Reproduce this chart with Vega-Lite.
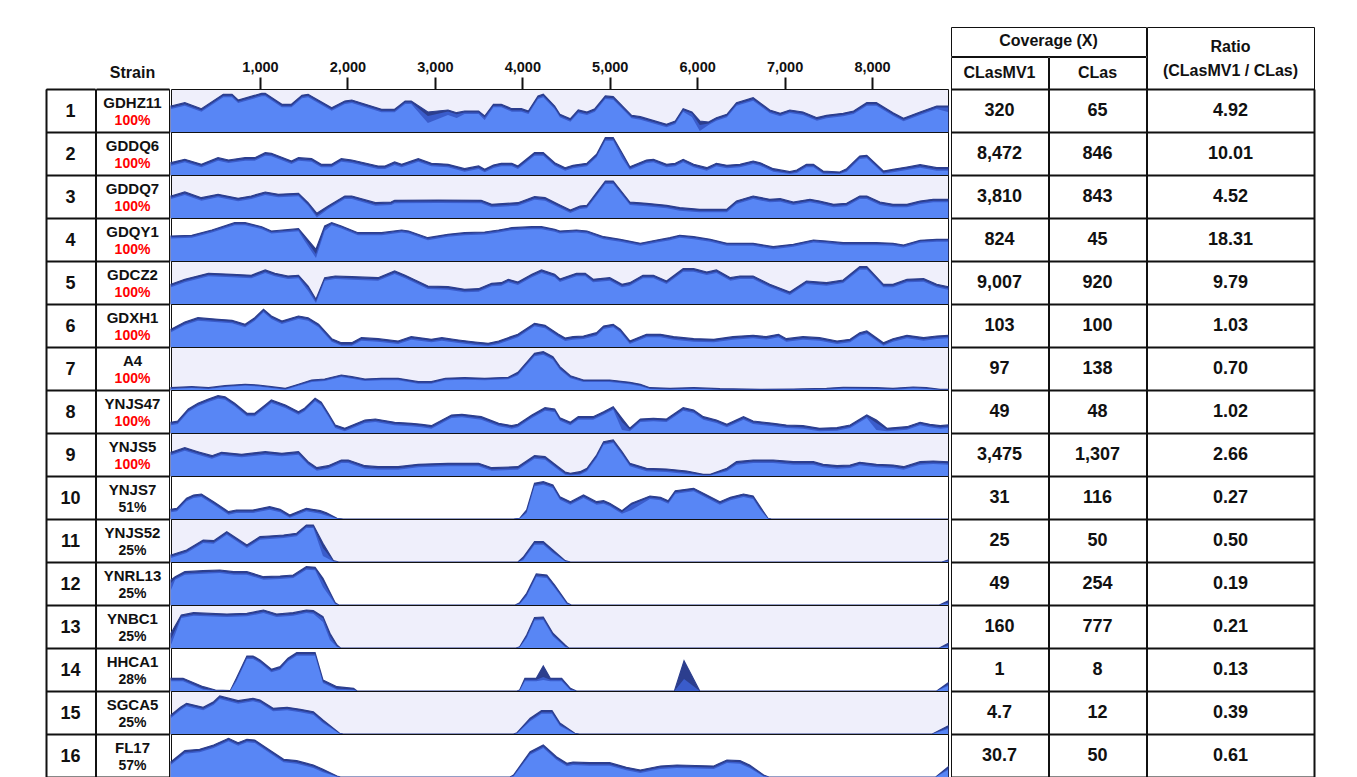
{
"$schema": "https://vega.github.io/schema/vega-lite/v6.json",
"padding": {"left": 45, "top": 26, "right": 5, "bottom": 0},
"background": "#ffffff",
"config": {"view": {"stroke": null}, "axis": {"minExtent": 0}, "text": {"font": "Liberation Sans", "fill": "#111111", "fontWeight": "bold"}},
"datasets": {
"tab": [
{"row":1,"name":"GDHZ11","pct":"100%","mv1":"320","clas":"65","ratio":"4.92"},
{"row":2,"name":"GDDQ6","pct":"100%","mv1":"8,472","clas":"846","ratio":"10.01"},
{"row":3,"name":"GDDQ7","pct":"100%","mv1":"3,810","clas":"843","ratio":"4.52"},
{"row":4,"name":"GDQY1","pct":"100%","mv1":"824","clas":"45","ratio":"18.31"},
{"row":5,"name":"GDCZ2","pct":"100%","mv1":"9,007","clas":"920","ratio":"9.79"},
{"row":6,"name":"GDXH1","pct":"100%","mv1":"103","clas":"100","ratio":"1.03"},
{"row":7,"name":"A4","pct":"100%","mv1":"97","clas":"138","ratio":"0.70"},
{"row":8,"name":"YNJS47","pct":"100%","mv1":"49","clas":"48","ratio":"1.02"},
{"row":9,"name":"YNJS5","pct":"100%","mv1":"3,475","clas":"1,307","ratio":"2.66"},
{"row":10,"name":"YNJS7","pct":"51%","mv1":"31","clas":"116","ratio":"0.27"},
{"row":11,"name":"YNJS52","pct":"25%","mv1":"25","clas":"50","ratio":"0.50"},
{"row":12,"name":"YNRL13","pct":"25%","mv1":"49","clas":"254","ratio":"0.19"},
{"row":13,"name":"YNBC1","pct":"25%","mv1":"160","clas":"777","ratio":"0.21"},
{"row":14,"name":"HHCA1","pct":"28%","mv1":"1","clas":"8","ratio":"0.13"},
{"row":15,"name":"SGCA5","pct":"25%","mv1":"4.7","clas":"12","ratio":"0.39"},
{"row":16,"name":"FL17","pct":"57%","mv1":"30.7","clas":"50","ratio":"0.61"}
],
"cov": [
{"s":1,"p":-18,"a":26,"b":24.5,"c":23},{"s":1,"p":140,"a":29.3,"b":27.8,"c":26.3},{"s":1,"p":330,"a":23.3,"b":21.8,"c":20.3},{"s":1,"p":580,"a":37.7,"b":36.2,"c":34.7},{"s":1,"p":680,"a":37.7,"b":36.2,"c":34.7},{"s":1,"p":750,"a":32,"b":30.5,"c":29},{"s":1,"p":1020,"a":38.7,"b":37.2,"c":35.7},{"s":1,"p":1060,"a":38.7,"b":37.2,"c":35.7},{"s":1,"p":1250,"a":27.7,"b":26.2,"c":24.7},{"s":1,"p":1360,"a":27.7,"b":26.2,"c":24.7},{"s":1,"p":1480,"a":36.7,"b":35.2,"c":33.7},{"s":1,"p":1550,"a":37.7,"b":36.2,"c":34.7},{"s":1,"p":1820,"a":24.3,"b":22.8,"c":21.3},{"s":1,"p":1970,"a":31,"b":29.5,"c":28},{"s":1,"p":2050,"a":32,"b":30.5,"c":29},{"s":1,"p":2390,"a":22.7,"b":21.2,"c":19.7},{"s":1,"p":2540,"a":22.7,"b":21.2,"c":19.7},{"s":1,"p":2660,"a":31,"b":29.5,"c":28},{"s":1,"p":2730,"a":31,"b":29.5,"c":28},{"s":1,"p":2920,"a":20,"b":16,"c":9},{"s":1,"p":3150,"a":22,"b":20.5,"c":17},{"s":1,"p":3250,"a":19.3,"b":17.8,"c":14},{"s":1,"p":3340,"a":21,"b":19.5,"c":18},{"s":1,"p":3500,"a":21,"b":19.5,"c":18},{"s":1,"p":3570,"a":16,"b":14.5,"c":12},{"s":1,"p":3670,"a":27.7,"b":26.2,"c":24.7},{"s":1,"p":3760,"a":27.7,"b":26.2,"c":24.7},{"s":1,"p":3880,"a":23.3,"b":21.8,"c":20.3},{"s":1,"p":3990,"a":23.3,"b":21.8,"c":20.3},{"s":1,"p":4070,"a":21,"b":19.5,"c":18},{"s":1,"p":4180,"a":36,"b":34.5,"c":33},{"s":1,"p":4240,"a":37.7,"b":36.2,"c":34.7},{"s":1,"p":4370,"a":26,"b":24.5,"c":23},{"s":1,"p":4430,"a":17.7,"b":16.2,"c":14.7},{"s":1,"p":4550,"a":13.3,"b":11.8,"c":10.3},{"s":1,"p":4640,"a":22,"b":20.5,"c":19},{"s":1,"p":4740,"a":20,"b":18.5,"c":17},{"s":1,"p":4830,"a":23.3,"b":21.8,"c":20.3},{"s":1,"p":4950,"a":36,"b":34.5,"c":33},{"s":1,"p":5040,"a":35.3,"b":33.8,"c":32.3},{"s":1,"p":5250,"a":16.7,"b":15.2,"c":13.7},{"s":1,"p":5350,"a":15.3,"b":13.8,"c":12.3},{"s":1,"p":5650,"a":7.7,"b":6.2,"c":4.7},{"s":1,"p":5750,"a":11,"b":9.5,"c":8},{"s":1,"p":5840,"a":23.3,"b":21.8,"c":20.3},{"s":1,"p":5940,"a":20,"b":18.5,"c":15},{"s":1,"p":6030,"a":11,"b":7,"c":1},{"s":1,"p":6130,"a":10,"b":8.5,"c":7},{"s":1,"p":6220,"a":14.3,"b":12.8,"c":11.3},{"s":1,"p":6340,"a":17.7,"b":16.2,"c":14.7},{"s":1,"p":6450,"a":29.3,"b":27.8,"c":26.3},{"s":1,"p":6640,"a":34.3,"b":32.8,"c":31.3},{"s":1,"p":6830,"a":22,"b":20.5,"c":19},{"s":1,"p":6950,"a":18.7,"b":17.2,"c":15.7},{"s":1,"p":7060,"a":22,"b":20.5,"c":19},{"s":1,"p":7210,"a":20,"b":18.5,"c":17},{"s":1,"p":7370,"a":14.3,"b":12.8,"c":11.3},{"s":1,"p":7480,"a":16.7,"b":15.2,"c":13.7},{"s":1,"p":7670,"a":18.7,"b":17.2,"c":15.7},{"s":1,"p":7790,"a":21,"b":19.5,"c":18},{"s":1,"p":7940,"a":29.3,"b":27.8,"c":26.3},{"s":1,"p":8050,"a":29.3,"b":27.8,"c":26.3},{"s":1,"p":8240,"a":19.3,"b":17.8,"c":16.3},{"s":1,"p":8360,"a":13.7,"b":12.2,"c":10.7},{"s":1,"p":8550,"a":20,"b":18.5,"c":17},{"s":1,"p":8740,"a":26,"b":24.5,"c":23},{"s":1,"p":8869,"a":26,"b":24.5,"c":20},
{"s":2,"p":-18,"a":12.3,"b":10.8,"c":9.3},{"s":2,"p":140,"a":15.7,"b":14.2,"c":12.7},{"s":2,"p":330,"a":10.7,"b":9.2,"c":7.7},{"s":2,"p":520,"a":17.3,"b":15.8,"c":14.3},{"s":2,"p":640,"a":15,"b":13.5,"c":12},{"s":2,"p":830,"a":17.3,"b":15.8,"c":14.3},{"s":2,"p":940,"a":17.3,"b":15.8,"c":14.3},{"s":2,"p":1060,"a":22.3,"b":20.8,"c":19.3},{"s":2,"p":1130,"a":21.7,"b":20.2,"c":18.7},{"s":2,"p":1360,"a":14,"b":12.5,"c":11},{"s":2,"p":1440,"a":17.3,"b":15.8,"c":14.3},{"s":2,"p":1590,"a":16.3,"b":14.8,"c":13.3},{"s":2,"p":1700,"a":10.7,"b":9.2,"c":7.7},{"s":2,"p":1820,"a":10.7,"b":9.2,"c":7.7},{"s":2,"p":1930,"a":16.3,"b":14.8,"c":13.3},{"s":2,"p":2050,"a":15,"b":13.5,"c":12},{"s":2,"p":2350,"a":9,"b":7.5,"c":6},{"s":2,"p":2430,"a":9,"b":7.5,"c":6},{"s":2,"p":2540,"a":13,"b":11.5,"c":10},{"s":2,"p":2620,"a":10.7,"b":9.2,"c":7.7},{"s":2,"p":2810,"a":16.3,"b":14.8,"c":13.3},{"s":2,"p":2960,"a":11.7,"b":10.2,"c":8.7},{"s":2,"p":3150,"a":10.7,"b":9.2,"c":7.7},{"s":2,"p":3340,"a":6.3,"b":4.8,"c":3.3},{"s":2,"p":3500,"a":9,"b":7.5,"c":6},{"s":2,"p":3570,"a":5.7,"b":4.2,"c":2.7},{"s":2,"p":3670,"a":10,"b":8.5,"c":7},{"s":2,"p":3760,"a":11.7,"b":10.2,"c":8.7},{"s":2,"p":3880,"a":11.7,"b":10.2,"c":8.7},{"s":2,"p":3950,"a":9,"b":7.5,"c":6},{"s":2,"p":4140,"a":22.3,"b":20.8,"c":19.3},{"s":2,"p":4240,"a":22.3,"b":20.8,"c":19.3},{"s":2,"p":4370,"a":12.3,"b":10.8,"c":9.3},{"s":2,"p":4490,"a":7.3,"b":5.8,"c":4.3},{"s":2,"p":4580,"a":9.7,"b":8.2,"c":6.7},{"s":2,"p":4740,"a":11.7,"b":10.2,"c":8.7},{"s":2,"p":4850,"a":20.7,"b":19.2,"c":17.7},{"s":2,"p":4950,"a":37.3,"b":35.8,"c":34.3},{"s":2,"p":5040,"a":37.3,"b":35.8,"c":34.3},{"s":2,"p":5140,"a":22.3,"b":20.8,"c":17},{"s":2,"p":5230,"a":8.3,"b":6.8,"c":5.3},{"s":2,"p":5420,"a":15,"b":13.5,"c":12},{"s":2,"p":5500,"a":15.7,"b":14.2,"c":12.7},{"s":2,"p":5650,"a":10.7,"b":9.2,"c":7.7},{"s":2,"p":5750,"a":11.7,"b":10.2,"c":8.7},{"s":2,"p":5840,"a":15.7,"b":14.2,"c":12.7},{"s":2,"p":5960,"a":10.7,"b":9.2,"c":7.7},{"s":2,"p":6110,"a":7.3,"b":5.8,"c":4.3},{"s":2,"p":6220,"a":11.7,"b":10.2,"c":8.7},{"s":2,"p":6340,"a":9.7,"b":8.2,"c":6.7},{"s":2,"p":6490,"a":10.7,"b":9.2,"c":7.7},{"s":2,"p":6640,"a":14,"b":12.5,"c":11},{"s":2,"p":6720,"a":12.3,"b":10.8,"c":9.3},{"s":2,"p":6870,"a":6.3,"b":4.8,"c":3.3},{"s":2,"p":7060,"a":3.3,"b":2,"c":1},{"s":2,"p":7140,"a":5,"b":3.5,"c":2},{"s":2,"p":7250,"a":10.7,"b":9.2,"c":7.7},{"s":2,"p":7330,"a":10.7,"b":9.2,"c":7.7},{"s":2,"p":7440,"a":4,"b":2.4,"c":1.2},{"s":2,"p":7630,"a":3,"b":1.8,"c":0.9},{"s":2,"p":7710,"a":6.3,"b":4.8,"c":3.3},{"s":2,"p":7860,"a":19,"b":17.5,"c":16},{"s":2,"p":7940,"a":19.7,"b":18.2,"c":16.7},{"s":2,"p":8130,"a":4,"b":2.4,"c":1.2},{"s":2,"p":8240,"a":5.7,"b":4.2,"c":2.7},{"s":2,"p":8400,"a":8,"b":6.5,"c":5},{"s":2,"p":8550,"a":10.3,"b":8.8,"c":7.3},{"s":2,"p":8740,"a":7.3,"b":5.8,"c":4.3},{"s":2,"p":8869,"a":7.3,"b":5.8,"c":4.3},
{"s":3,"p":-18,"a":22,"b":20.5,"c":19},{"s":3,"p":140,"a":26,"b":24.5,"c":23},{"s":3,"p":330,"a":20.3,"b":18.8,"c":17.3},{"s":3,"p":520,"a":23.7,"b":22.2,"c":20.7},{"s":3,"p":750,"a":19.7,"b":18.2,"c":16.7},{"s":3,"p":900,"a":22,"b":20.5,"c":19},{"s":3,"p":1060,"a":26,"b":24.5,"c":23},{"s":3,"p":1210,"a":23.7,"b":22.2,"c":20.7},{"s":3,"p":1440,"a":24.7,"b":23.2,"c":21.7},{"s":3,"p":1550,"a":15.3,"b":13.8,"c":12.3},{"s":3,"p":1650,"a":4.7,"b":2.5,"c":0.5},{"s":3,"p":1780,"a":12,"b":10.5,"c":9},{"s":3,"p":1970,"a":22,"b":20.5,"c":19},{"s":3,"p":2050,"a":22,"b":20.5,"c":19},{"s":3,"p":2320,"a":15.3,"b":13.8,"c":12.3},{"s":3,"p":2500,"a":16,"b":14.5,"c":13},{"s":3,"p":2540,"a":17.7,"b":16.2,"c":14.7},{"s":3,"p":3040,"a":18,"b":16.5,"c":15},{"s":3,"p":3530,"a":17.7,"b":16.2,"c":14.7},{"s":3,"p":3650,"a":13.7,"b":12.2,"c":10.7},{"s":3,"p":3950,"a":15.3,"b":13.8,"c":12.3},{"s":3,"p":4140,"a":21.3,"b":19.8,"c":18.3},{"s":3,"p":4260,"a":20.3,"b":18.8,"c":17.3},{"s":3,"p":4430,"a":13,"b":11.5,"c":10},{"s":3,"p":4550,"a":8,"b":6.5,"c":5},{"s":3,"p":4660,"a":12,"b":10.5,"c":9},{"s":3,"p":4740,"a":12.7,"b":11.2,"c":9.7},{"s":3,"p":4850,"a":25.3,"b":23.8,"c":22.3},{"s":3,"p":4950,"a":37,"b":35.5,"c":34},{"s":3,"p":5040,"a":37,"b":35.5,"c":34},{"s":3,"p":5230,"a":16,"b":14.5,"c":13},{"s":3,"p":5420,"a":14.7,"b":13.2,"c":11.7},{"s":3,"p":5650,"a":12.7,"b":11.2,"c":9.7},{"s":3,"p":5800,"a":10.3,"b":8.8,"c":7.3},{"s":3,"p":6030,"a":8.7,"b":7.2,"c":5.7},{"s":3,"p":6340,"a":8.7,"b":7.2,"c":5.7},{"s":3,"p":6450,"a":17,"b":15.5,"c":14},{"s":3,"p":6640,"a":22,"b":20.5,"c":19},{"s":3,"p":6830,"a":18.7,"b":17.2,"c":15.7},{"s":3,"p":6950,"a":19.3,"b":17.8,"c":16.3},{"s":3,"p":7100,"a":16,"b":14.5,"c":13},{"s":3,"p":7290,"a":18.7,"b":17.2,"c":15.7},{"s":3,"p":7400,"a":17,"b":15.5,"c":14},{"s":3,"p":7560,"a":13.7,"b":12.2,"c":10.7},{"s":3,"p":7710,"a":14.7,"b":13.2,"c":11.7},{"s":3,"p":7860,"a":22,"b":20.5,"c":19},{"s":3,"p":7940,"a":22,"b":20.5,"c":19},{"s":3,"p":8090,"a":16,"b":14.5,"c":13},{"s":3,"p":8240,"a":13.7,"b":12.2,"c":10.7},{"s":3,"p":8400,"a":13.7,"b":12.2,"c":10.7},{"s":3,"p":8550,"a":17,"b":15.5,"c":14},{"s":3,"p":8700,"a":18.7,"b":17.2,"c":15.7},{"s":3,"p":8869,"a":18.7,"b":17.2,"c":15.7},
{"s":4,"p":-18,"a":25,"b":24,"c":22.5},{"s":4,"p":220,"a":25.7,"b":24.7,"c":23.2},{"s":4,"p":450,"a":31,"b":30,"c":28.5},{"s":4,"p":710,"a":38.3,"b":37.3,"c":35.8},{"s":4,"p":830,"a":38.3,"b":37.3,"c":35.8},{"s":4,"p":1020,"a":34.3,"b":33.3,"c":31.8},{"s":4,"p":1130,"a":30,"b":29,"c":27.5},{"s":4,"p":1440,"a":32.3,"b":31.3,"c":29.8},{"s":4,"p":1510,"a":25,"b":23,"c":20},{"s":4,"p":1640,"a":11.7,"b":7,"c":3},{"s":4,"p":1740,"a":35,"b":33,"c":30},{"s":4,"p":1820,"a":38.3,"b":37.3,"c":35.8},{"s":4,"p":1930,"a":35,"b":34,"c":32.5},{"s":4,"p":2120,"a":28.3,"b":27.3,"c":25.8},{"s":4,"p":2390,"a":28.3,"b":27.3,"c":25.8},{"s":4,"p":2620,"a":31,"b":30,"c":28.5},{"s":4,"p":2700,"a":30,"b":29,"c":27.5},{"s":4,"p":2920,"a":23.3,"b":22.3,"c":20.8},{"s":4,"p":3150,"a":26.7,"b":25.7,"c":24.2},{"s":4,"p":3340,"a":28.3,"b":27.3,"c":25.8},{"s":4,"p":3570,"a":29,"b":28,"c":26.5},{"s":4,"p":3730,"a":31,"b":30,"c":28.5},{"s":4,"p":3880,"a":33.3,"b":32.3,"c":30.8},{"s":4,"p":4110,"a":34.3,"b":33.3,"c":31.8},{"s":4,"p":4220,"a":34.3,"b":33.3,"c":31.8},{"s":4,"p":4370,"a":31.7,"b":30.7,"c":29.2},{"s":4,"p":4430,"a":30,"b":29,"c":27.5},{"s":4,"p":4620,"a":31,"b":30,"c":28.5},{"s":4,"p":4740,"a":30,"b":29,"c":27.5},{"s":4,"p":4930,"a":24.3,"b":23.3,"c":21.8},{"s":4,"p":5120,"a":21.7,"b":20.7,"c":19.2},{"s":4,"p":5350,"a":17.7,"b":16.7,"c":15.2},{"s":4,"p":5540,"a":21,"b":20,"c":18.5},{"s":4,"p":5690,"a":23.3,"b":22.3,"c":20.8},{"s":4,"p":5800,"a":25.7,"b":24.7,"c":23.2},{"s":4,"p":5960,"a":24.3,"b":23.3,"c":21.8},{"s":4,"p":6150,"a":21.7,"b":20.7,"c":19.2},{"s":4,"p":6340,"a":17.7,"b":16.7,"c":15.2},{"s":4,"p":6640,"a":17.7,"b":16.7,"c":15.2},{"s":4,"p":6870,"a":14.3,"b":13.3,"c":11.8},{"s":4,"p":7100,"a":16.7,"b":15.7,"c":14.2},{"s":4,"p":7330,"a":21,"b":20,"c":18.5},{"s":4,"p":7480,"a":20,"b":19,"c":17.5},{"s":4,"p":7670,"a":18.3,"b":17.3,"c":15.8},{"s":4,"p":7860,"a":18.3,"b":17.3,"c":15.8},{"s":4,"p":8050,"a":18.3,"b":17.3,"c":15.8},{"s":4,"p":8240,"a":17.7,"b":16.7,"c":15.2},{"s":4,"p":8360,"a":16,"b":15,"c":13.5},{"s":4,"p":8550,"a":20.7,"b":19.7,"c":18.2},{"s":4,"p":8740,"a":21.7,"b":20.7,"c":19.2},{"s":4,"p":8869,"a":21.7,"b":20.7,"c":19.2},
{"s":5,"p":-18,"a":19.7,"b":18.2,"c":16.7},{"s":5,"p":140,"a":24.7,"b":23.2,"c":21.7},{"s":5,"p":410,"a":30.7,"b":29.2,"c":27.7},{"s":5,"p":680,"a":29.7,"b":28.2,"c":26.7},{"s":5,"p":900,"a":28.7,"b":27.2,"c":25.7},{"s":5,"p":1060,"a":34,"b":32.5,"c":31},{"s":5,"p":1170,"a":30.7,"b":29.2,"c":27.7},{"s":5,"p":1320,"a":28,"b":26.5,"c":25},{"s":5,"p":1440,"a":28.7,"b":27.2,"c":25.7},{"s":5,"p":1550,"a":18,"b":16,"c":13},{"s":5,"p":1640,"a":4.7,"b":3,"c":1},{"s":5,"p":1740,"a":26.3,"b":24.8,"c":23.3},{"s":5,"p":1860,"a":28,"b":26.5,"c":25},{"s":5,"p":2050,"a":27.3,"b":25.8,"c":24.3},{"s":5,"p":2350,"a":26.3,"b":24.8,"c":23.3},{"s":5,"p":2540,"a":33,"b":31.5,"c":30},{"s":5,"p":2660,"a":28.7,"b":27.2,"c":25.7},{"s":5,"p":2920,"a":18,"b":16.5,"c":15},{"s":5,"p":3150,"a":17.3,"b":15.8,"c":14.3},{"s":5,"p":3340,"a":14.7,"b":13.2,"c":11.7},{"s":5,"p":3500,"a":15.3,"b":13.8,"c":12.3},{"s":5,"p":3650,"a":20.7,"b":19.2,"c":17.7},{"s":5,"p":3760,"a":21.3,"b":19.8,"c":18.3},{"s":5,"p":3840,"a":24.7,"b":23.2,"c":21.7},{"s":5,"p":3950,"a":22,"b":20.5,"c":19},{"s":5,"p":4110,"a":29.7,"b":28.2,"c":26.7},{"s":5,"p":4220,"a":34,"b":32.5,"c":31},{"s":5,"p":4370,"a":29.7,"b":28.2,"c":26.7},{"s":5,"p":4430,"a":25,"b":23.5,"c":22},{"s":5,"p":4620,"a":30.7,"b":29.2,"c":27.7},{"s":5,"p":4720,"a":30.7,"b":29.2,"c":27.7},{"s":5,"p":4810,"a":24.7,"b":23.2,"c":21.7},{"s":5,"p":5000,"a":26.3,"b":24.8,"c":23.3},{"s":5,"p":5140,"a":19.7,"b":18.2,"c":16.7},{"s":5,"p":5230,"a":21.3,"b":19.8,"c":18.3},{"s":5,"p":5380,"a":28.7,"b":27.2,"c":25.7},{"s":5,"p":5500,"a":28.7,"b":27.2,"c":25.7},{"s":5,"p":5650,"a":23,"b":21.5,"c":20},{"s":5,"p":5840,"a":35.3,"b":33.8,"c":32.3},{"s":5,"p":5960,"a":35.3,"b":33.8,"c":32.3},{"s":5,"p":6110,"a":32,"b":30.5,"c":29},{"s":5,"p":6220,"a":34,"b":32.5,"c":31},{"s":5,"p":6380,"a":26.3,"b":24.8,"c":23.3},{"s":5,"p":6490,"a":28,"b":26.5,"c":25},{"s":5,"p":6640,"a":28,"b":26.5,"c":25},{"s":5,"p":6830,"a":19.7,"b":18.2,"c":16.7},{"s":5,"p":7060,"a":12,"b":10.5,"c":9},{"s":5,"p":7250,"a":23,"b":21.5,"c":20},{"s":5,"p":7480,"a":21.3,"b":19.8,"c":18.3},{"s":5,"p":7670,"a":24,"b":22.5,"c":21},{"s":5,"p":7860,"a":37.3,"b":35.8,"c":34.3},{"s":5,"p":7940,"a":37.3,"b":35.8,"c":34.3},{"s":5,"p":8130,"a":19.7,"b":18.2,"c":16.7},{"s":5,"p":8240,"a":19.7,"b":18.2,"c":16.7},{"s":5,"p":8400,"a":24.7,"b":23.2,"c":21.7},{"s":5,"p":8590,"a":25.3,"b":23.8,"c":22.3},{"s":5,"p":8740,"a":19.7,"b":18.2,"c":16.7},{"s":5,"p":8869,"a":17.3,"b":15.8,"c":14.3},
{"s":6,"p":-18,"a":17.7,"b":16.2,"c":14.7},{"s":6,"p":140,"a":25,"b":23.5,"c":22},{"s":6,"p":290,"a":29.3,"b":27.8,"c":26.3},{"s":6,"p":520,"a":27.7,"b":26.2,"c":24.7},{"s":6,"p":680,"a":26.7,"b":25.2,"c":23.7},{"s":6,"p":830,"a":22.7,"b":21.2,"c":19.7},{"s":6,"p":940,"a":29.3,"b":27.8,"c":26.3},{"s":6,"p":1040,"a":37.7,"b":36.2,"c":34.7},{"s":6,"p":1130,"a":31,"b":29.5,"c":28},{"s":6,"p":1250,"a":26,"b":24.5,"c":23},{"s":6,"p":1440,"a":31,"b":29.5,"c":28},{"s":6,"p":1550,"a":29.3,"b":27.8,"c":26.3},{"s":6,"p":1670,"a":22.7,"b":21.2,"c":19.7},{"s":6,"p":1820,"a":8.3,"b":6.8,"c":5.3},{"s":6,"p":1930,"a":4.3,"b":2.6,"c":1.3},{"s":6,"p":2050,"a":4.3,"b":2.6,"c":1.3},{"s":6,"p":2160,"a":9.3,"b":7.8,"c":6.3},{"s":6,"p":2350,"a":8.3,"b":6.8,"c":5.3},{"s":6,"p":2580,"a":6,"b":4.5,"c":3},{"s":6,"p":2730,"a":10.3,"b":8.8,"c":7.3},{"s":6,"p":2960,"a":7.7,"b":6.2,"c":4.7},{"s":6,"p":3080,"a":9.3,"b":7.8,"c":6.3},{"s":6,"p":3270,"a":7,"b":5.5,"c":4},{"s":6,"p":3460,"a":5,"b":3.5,"c":2},{"s":6,"p":3610,"a":3.7,"b":2.2,"c":1.1},{"s":6,"p":3730,"a":6,"b":4.5,"c":3},{"s":6,"p":3950,"a":12.7,"b":11.2,"c":9.7},{"s":6,"p":4140,"a":23.7,"b":22.2,"c":20.7},{"s":6,"p":4260,"a":21.7,"b":20.2,"c":18.7},{"s":6,"p":4410,"a":13,"b":11.5,"c":10},{"s":6,"p":4490,"a":9,"b":7.5,"c":6},{"s":6,"p":4580,"a":10.3,"b":8.8,"c":7.3},{"s":6,"p":4700,"a":11,"b":9.5,"c":8},{"s":6,"p":4850,"a":14.3,"b":12.8,"c":11.3},{"s":6,"p":4930,"a":21,"b":19.5,"c":18},{"s":6,"p":5040,"a":22.7,"b":21.2,"c":19.7},{"s":6,"p":5120,"a":17.7,"b":16.2,"c":14.7},{"s":6,"p":5230,"a":6,"b":4.5,"c":3},{"s":6,"p":5420,"a":12.7,"b":11.2,"c":9.7},{"s":6,"p":5580,"a":12.7,"b":11.2,"c":9.7},{"s":6,"p":5730,"a":10.3,"b":8.8,"c":7.3},{"s":6,"p":5960,"a":8.3,"b":6.8,"c":5.3},{"s":6,"p":6190,"a":7.7,"b":6.2,"c":4.7},{"s":6,"p":6410,"a":10.3,"b":8.8,"c":7.3},{"s":6,"p":6640,"a":11.7,"b":10.2,"c":8.7},{"s":6,"p":6790,"a":10.3,"b":8.8,"c":7.3},{"s":6,"p":6930,"a":12.7,"b":11.2,"c":9.7},{"s":6,"p":7020,"a":8.3,"b":6.8,"c":5.3},{"s":6,"p":7210,"a":10.3,"b":8.8,"c":7.3},{"s":6,"p":7400,"a":9.3,"b":7.8,"c":6.3},{"s":6,"p":7600,"a":6,"b":4.5,"c":3},{"s":6,"p":7750,"a":7.7,"b":6.2,"c":4.7},{"s":6,"p":7860,"a":14.3,"b":12.8,"c":11.3},{"s":6,"p":7940,"a":16,"b":14.5,"c":13},{"s":6,"p":8130,"a":4.3,"b":2.6,"c":1.3},{"s":6,"p":8240,"a":8.3,"b":6.8,"c":5.3},{"s":6,"p":8400,"a":11.7,"b":10.2,"c":8.7},{"s":6,"p":8590,"a":9.3,"b":7.8,"c":6.3},{"s":6,"p":8740,"a":11,"b":9.5,"c":8},{"s":6,"p":8869,"a":11.7,"b":10.2,"c":8.7},
{"s":7,"p":-18,"a":2.3,"b":1.6,"c":0.9},{"s":7,"p":220,"a":3.3,"b":2.6,"c":1.9},{"s":7,"p":410,"a":2.3,"b":1.6,"c":0.9},{"s":7,"p":600,"a":4.3,"b":3.6,"c":2.9},{"s":7,"p":830,"a":5.7,"b":5,"c":4.3},{"s":7,"p":980,"a":5,"b":4.3,"c":3.6},{"s":7,"p":1130,"a":3.3,"b":2.6,"c":1.9},{"s":7,"p":1290,"a":1.7,"b":1,"c":0.3},{"s":7,"p":1440,"a":5.7,"b":5,"c":4.3},{"s":7,"p":1590,"a":10,"b":9,"c":8},{"s":7,"p":1740,"a":11,"b":10,"c":9},{"s":7,"p":1930,"a":15,"b":14,"c":13},{"s":7,"p":2050,"a":13.3,"b":12.3,"c":11.3},{"s":7,"p":2200,"a":11,"b":10,"c":9},{"s":7,"p":2390,"a":11.7,"b":10.7,"c":9.7},{"s":7,"p":2580,"a":11.7,"b":10.7,"c":9.7},{"s":7,"p":2810,"a":8.3,"b":7.3,"c":6.3},{"s":7,"p":2960,"a":8.3,"b":7.3,"c":6.3},{"s":7,"p":3120,"a":11.7,"b":10.7,"c":9.7},{"s":7,"p":3340,"a":12.3,"b":11.3,"c":10.3},{"s":7,"p":3570,"a":11.7,"b":10.7,"c":9.7},{"s":7,"p":3840,"a":12.7,"b":11.7,"c":10.7},{"s":7,"p":3950,"a":17.7,"b":16.2,"c":14.7},{"s":7,"p":4140,"a":36.7,"b":35.2,"c":33.7},{"s":7,"p":4240,"a":38.3,"b":36.8,"c":35.3},{"s":7,"p":4350,"a":33.3,"b":31.8,"c":30.3},{"s":7,"p":4430,"a":23.3,"b":21.8,"c":20.3},{"s":7,"p":4550,"a":14.3,"b":13,"c":11.8},{"s":7,"p":4700,"a":10,"b":9,"c":8},{"s":7,"p":5000,"a":10,"b":9,"c":8},{"s":7,"p":5230,"a":7.7,"b":6.7,"c":5.7},{"s":7,"p":5350,"a":5.7,"b":4.7,"c":3.7},{"s":7,"p":5460,"a":2.3,"b":1.6,"c":0.9},{"s":7,"p":5690,"a":1.7,"b":1,"c":0.3},{"s":7,"p":5960,"a":2.3,"b":1.6,"c":0.9},{"s":7,"p":6260,"a":1.3,"b":0.6,"c":0},{"s":7,"p":6720,"a":0.7,"b":0.2,"c":0},{"s":7,"p":7100,"a":1,"b":0.4,"c":0},{"s":7,"p":7480,"a":1.7,"b":1,"c":0.3},{"s":7,"p":7670,"a":2.7,"b":2,"c":1.3},{"s":7,"p":8050,"a":2.3,"b":1.6,"c":0.9},{"s":7,"p":8240,"a":1.7,"b":1,"c":0.3},{"s":7,"p":8470,"a":3,"b":2.3,"c":1.6},{"s":7,"p":8620,"a":2.3,"b":1.6,"c":0.9},{"s":7,"p":8780,"a":0.7,"b":0.2,"c":0},{"s":7,"p":8869,"a":0.7,"b":0.2,"c":0},
{"s":8,"p":-18,"a":10.7,"b":9.2,"c":7.7},{"s":8,"p":60,"a":12,"b":10.5,"c":9},{"s":8,"p":180,"a":24,"b":22.5,"c":21},{"s":8,"p":290,"a":29.7,"b":28.2,"c":26.7},{"s":8,"p":410,"a":34,"b":32.5,"c":31},{"s":8,"p":520,"a":37.3,"b":35.8,"c":34.3},{"s":8,"p":600,"a":36.3,"b":34.8,"c":33.3},{"s":8,"p":710,"a":29.7,"b":28.2,"c":26.7},{"s":8,"p":850,"a":19.7,"b":18.2,"c":16.7},{"s":8,"p":940,"a":19.7,"b":18.2,"c":16.7},{"s":8,"p":1060,"a":28,"b":26.5,"c":25},{"s":8,"p":1130,"a":33,"b":31.5,"c":30},{"s":8,"p":1290,"a":28,"b":26.5,"c":25},{"s":8,"p":1440,"a":21.3,"b":19.8,"c":18.3},{"s":8,"p":1510,"a":24.7,"b":23.2,"c":21.7},{"s":8,"p":1630,"a":34.7,"b":33.2,"c":31.7},{"s":8,"p":1700,"a":30.7,"b":29.2,"c":27.7},{"s":8,"p":1780,"a":19.7,"b":18.2,"c":16.7},{"s":8,"p":1860,"a":8,"b":6.5,"c":5},{"s":8,"p":1970,"a":4.7,"b":3.2,"c":1.7},{"s":8,"p":2200,"a":13,"b":11.5,"c":10},{"s":8,"p":2320,"a":14,"b":12.5,"c":11},{"s":8,"p":2540,"a":10.7,"b":9.2,"c":7.7},{"s":8,"p":2730,"a":9.7,"b":8.2,"c":6.7},{"s":8,"p":2850,"a":8.7,"b":7.2,"c":5.7},{"s":8,"p":2960,"a":7.3,"b":5.8,"c":4.3},{"s":8,"p":3190,"a":18,"b":16.5,"c":15},{"s":8,"p":3310,"a":18.7,"b":17.2,"c":15.7},{"s":8,"p":3530,"a":16.3,"b":14.8,"c":13.3},{"s":8,"p":3730,"a":9.7,"b":8.2,"c":6.7},{"s":8,"p":3880,"a":7.3,"b":5.8,"c":4.3},{"s":8,"p":3950,"a":8.7,"b":7.2,"c":5.7},{"s":8,"p":4110,"a":18,"b":16.5,"c":15},{"s":8,"p":4260,"a":25.3,"b":23.8,"c":22.3},{"s":8,"p":4370,"a":24,"b":22.5,"c":21},{"s":8,"p":4430,"a":15.3,"b":13.8,"c":12.3},{"s":8,"p":4550,"a":10.7,"b":9.2,"c":7.7},{"s":8,"p":4640,"a":16.3,"b":14.8,"c":13.3},{"s":8,"p":4810,"a":16.3,"b":14.8,"c":13.3},{"s":8,"p":4930,"a":21.3,"b":19.8,"c":18.3},{"s":8,"p":5040,"a":26.3,"b":24.8,"c":23.3},{"s":8,"p":5140,"a":14.7,"b":11,"c":3},{"s":8,"p":5230,"a":4.7,"b":3.2,"c":1.7},{"s":8,"p":5350,"a":14,"b":12.5,"c":11},{"s":8,"p":5500,"a":14.7,"b":13.2,"c":11.7},{"s":8,"p":5650,"a":14,"b":12.5,"c":11},{"s":8,"p":5840,"a":25.3,"b":23.8,"c":22.3},{"s":8,"p":5960,"a":23,"b":21.5,"c":20},{"s":8,"p":6070,"a":16.3,"b":14.8,"c":13.3},{"s":8,"p":6220,"a":13,"b":11.5,"c":10},{"s":8,"p":6340,"a":8.7,"b":7.2,"c":5.7},{"s":8,"p":6530,"a":16.3,"b":14.8,"c":13.3},{"s":8,"p":6640,"a":12,"b":10.5,"c":9},{"s":8,"p":6870,"a":9.7,"b":8.2,"c":6.7},{"s":8,"p":7020,"a":8,"b":6.5,"c":5},{"s":8,"p":7210,"a":7.3,"b":5.8,"c":4.3},{"s":8,"p":7400,"a":4.7,"b":3.2,"c":1.7},{"s":8,"p":7600,"a":5.3,"b":3.8,"c":2.3},{"s":8,"p":7750,"a":8,"b":6.5,"c":5},{"s":8,"p":7940,"a":18,"b":16.5,"c":15},{"s":8,"p":8050,"a":13,"b":10,"c":3},{"s":8,"p":8170,"a":4.7,"b":3.2,"c":1.7},{"s":8,"p":8400,"a":6.3,"b":4.8,"c":3.3},{"s":8,"p":8550,"a":10.7,"b":9.2,"c":7.7},{"s":8,"p":8660,"a":8.7,"b":7.2,"c":5.7},{"s":8,"p":8780,"a":7.3,"b":5.8,"c":4.3},{"s":8,"p":8869,"a":8,"b":6.5,"c":5},
{"s":9,"p":-18,"a":23.7,"b":22.2,"c":20.7},{"s":9,"p":140,"a":28.3,"b":26.8,"c":25.3},{"s":9,"p":290,"a":24.3,"b":22.8,"c":21.3},{"s":9,"p":450,"a":20.3,"b":18.8,"c":17.3},{"s":9,"p":560,"a":23.7,"b":22.2,"c":20.7},{"s":9,"p":790,"a":21.7,"b":20.2,"c":18.7},{"s":9,"p":1060,"a":24.3,"b":22.8,"c":21.3},{"s":9,"p":1250,"a":22.7,"b":21.2,"c":19.7},{"s":9,"p":1440,"a":24.3,"b":22.8,"c":21.3},{"s":9,"p":1550,"a":14.3,"b":12.8,"c":11.3},{"s":9,"p":1650,"a":8.3,"b":6.8,"c":5.3},{"s":9,"p":1780,"a":10.3,"b":8.8,"c":7.3},{"s":9,"p":1930,"a":16,"b":14.5,"c":13},{"s":9,"p":2010,"a":16,"b":14.5,"c":13},{"s":9,"p":2200,"a":10.3,"b":8.8,"c":7.3},{"s":9,"p":2350,"a":9.3,"b":7.8,"c":6.3},{"s":9,"p":2580,"a":9.3,"b":7.8,"c":6.3},{"s":9,"p":2810,"a":11.7,"b":10.2,"c":8.7},{"s":9,"p":3150,"a":12.7,"b":11.2,"c":9.7},{"s":9,"p":3500,"a":12.7,"b":11.2,"c":9.7},{"s":9,"p":3650,"a":8.3,"b":6.8,"c":5.3},{"s":9,"p":3950,"a":9.3,"b":7.8,"c":6.3},{"s":9,"p":4140,"a":20.3,"b":18.8,"c":17.3},{"s":9,"p":4260,"a":19.3,"b":17.8,"c":16.3},{"s":9,"p":4410,"a":9.3,"b":7.8,"c":6.3},{"s":9,"p":4490,"a":4,"b":2.4,"c":1.2},{"s":9,"p":4550,"a":2.7,"b":1.6,"c":0.8},{"s":9,"p":4660,"a":4.3,"b":2.6,"c":1.3},{"s":9,"p":4740,"a":7.7,"b":6.2,"c":4.7},{"s":9,"p":4850,"a":21,"b":19.5,"c":18},{"s":9,"p":4930,"a":34.3,"b":32.8,"c":31.3},{"s":9,"p":5040,"a":36,"b":34.5,"c":33},{"s":9,"p":5140,"a":24.3,"b":22.8,"c":21.3},{"s":9,"p":5230,"a":12.7,"b":11.2,"c":9.7},{"s":9,"p":5420,"a":7.7,"b":6.2,"c":4.7},{"s":9,"p":5650,"a":7,"b":5.5,"c":4},{"s":9,"p":5880,"a":5,"b":3.5,"c":2},{"s":9,"p":6070,"a":1.7,"b":1,"c":0.5},{"s":9,"p":6150,"a":1.7,"b":1,"c":0.5},{"s":9,"p":6340,"a":7.7,"b":6.2,"c":4.7},{"s":9,"p":6450,"a":14.3,"b":12.8,"c":11.3},{"s":9,"p":6640,"a":16,"b":14.5,"c":13},{"s":9,"p":6870,"a":16,"b":14.5,"c":13},{"s":9,"p":7100,"a":14.3,"b":12.8,"c":11.3},{"s":9,"p":7330,"a":14.3,"b":12.8,"c":11.3},{"s":9,"p":7440,"a":11.7,"b":10.2,"c":8.7},{"s":9,"p":7600,"a":10.3,"b":8.8,"c":7.3},{"s":9,"p":7750,"a":11,"b":9.5,"c":8},{"s":9,"p":7860,"a":13.7,"b":12.2,"c":10.7},{"s":9,"p":8050,"a":11.7,"b":10.2,"c":8.7},{"s":9,"p":8240,"a":11,"b":9.5,"c":8},{"s":9,"p":8360,"a":9.3,"b":7.8,"c":6.3},{"s":9,"p":8550,"a":14.3,"b":12.8,"c":11.3},{"s":9,"p":8700,"a":15,"b":13.5,"c":12},{"s":9,"p":8869,"a":14.3,"b":12.8,"c":11.3},
{"s":10,"p":-18,"a":9.7,"b":8.2,"c":6.7},{"s":10,"p":50,"a":10.7,"b":9.2,"c":7.7},{"s":10,"p":160,"a":20.7,"b":19.2,"c":17.7},{"s":10,"p":240,"a":24,"b":22.5,"c":21},{"s":10,"p":330,"a":25,"b":23.5,"c":22},{"s":10,"p":470,"a":17.3,"b":15.8,"c":14.3},{"s":10,"p":640,"a":7.3,"b":5.8,"c":4.3},{"s":10,"p":730,"a":9,"b":7.5,"c":6},{"s":10,"p":920,"a":9,"b":7.5,"c":6},{"s":10,"p":1110,"a":12.3,"b":10.8,"c":9.3},{"s":10,"p":1230,"a":9.7,"b":8.2,"c":6.7},{"s":10,"p":1340,"a":4,"b":2.4,"c":1.2},{"s":10,"p":1530,"a":10.7,"b":9.2,"c":7.7},{"s":10,"p":1690,"a":8.3,"b":6.8,"c":5.3},{"s":10,"p":1760,"a":6.3,"b":4.8,"c":3.3},{"s":10,"p":1880,"a":0.7,"b":0.4,"c":0.2},{"s":10,"p":1950,"a":0,"b":0,"c":0},{"s":10,"p":3900,"a":0,"b":0,"c":0},{"s":10,"p":3970,"a":0.7,"b":0.4,"c":0.2},{"s":10,"p":4050,"a":9,"b":7.5,"c":6},{"s":10,"p":4140,"a":35.7,"b":34.2,"c":32.7},{"s":10,"p":4240,"a":37.3,"b":35.8,"c":34.3},{"s":10,"p":4350,"a":34,"b":32.5,"c":31},{"s":10,"p":4430,"a":22.3,"b":20.8,"c":19.3},{"s":10,"p":4550,"a":17.3,"b":15.8,"c":14.3},{"s":10,"p":4700,"a":24,"b":22.5,"c":21},{"s":10,"p":4850,"a":17.3,"b":15.8,"c":14.3},{"s":10,"p":4930,"a":18.3,"b":16.8,"c":15.3},{"s":10,"p":5000,"a":15.7,"b":14.2,"c":12.7},{"s":10,"p":5140,"a":8.3,"b":6.8,"c":5.3},{"s":10,"p":5250,"a":15.7,"b":14.2,"c":9},{"s":10,"p":5460,"a":23,"b":21.5,"c":20},{"s":10,"p":5580,"a":21.7,"b":20.2,"c":18.7},{"s":10,"p":5670,"a":18.3,"b":16.8,"c":15.3},{"s":10,"p":5750,"a":28.3,"b":26.8,"c":25.3},{"s":10,"p":5960,"a":30.7,"b":29.2,"c":27.7},{"s":10,"p":6110,"a":24,"b":22.5,"c":21},{"s":10,"p":6260,"a":17.3,"b":15.8,"c":14.3},{"s":10,"p":6380,"a":21.7,"b":20.2,"c":18.7},{"s":10,"p":6530,"a":25,"b":23.5,"c":22},{"s":10,"p":6640,"a":23,"b":21.5,"c":20},{"s":10,"p":6720,"a":12.3,"b":10.8,"c":9.3},{"s":10,"p":6810,"a":0.7,"b":0.4,"c":0.2},{"s":10,"p":6850,"a":0,"b":0,"c":0},{"s":10,"p":8869,"a":0,"b":0,"c":0},
{"s":11,"p":-18,"a":7,"b":5.5,"c":4},{"s":11,"p":160,"a":12,"b":10.5,"c":9},{"s":11,"p":350,"a":22,"b":20.5,"c":19},{"s":11,"p":470,"a":21.3,"b":19.8,"c":18.3},{"s":11,"p":620,"a":30.3,"b":28.8,"c":27.3},{"s":11,"p":850,"a":17,"b":15.5,"c":14},{"s":11,"p":1000,"a":25.3,"b":23.8,"c":22.3},{"s":11,"p":1110,"a":26,"b":24.5,"c":23},{"s":11,"p":1270,"a":27,"b":25.5,"c":24},{"s":11,"p":1420,"a":28.7,"b":27.2,"c":25.7},{"s":11,"p":1530,"a":37,"b":35.5,"c":34},{"s":11,"p":1610,"a":37,"b":35.5,"c":34},{"s":11,"p":1720,"a":18.7,"b":14,"c":6},{"s":11,"p":1840,"a":1.3,"b":0.8,"c":0.4},{"s":11,"p":1900,"a":0,"b":0,"c":0},{"s":11,"p":3950,"a":0,"b":0,"c":0},{"s":11,"p":4010,"a":4.7,"b":3.2,"c":1.7},{"s":11,"p":4140,"a":20.3,"b":18.8,"c":17.3},{"s":11,"p":4240,"a":20.3,"b":18.8,"c":17.3},{"s":11,"p":4350,"a":12,"b":10.5,"c":9},{"s":11,"p":4490,"a":1.3,"b":0.8,"c":0.4},{"s":11,"p":4550,"a":0,"b":0,"c":0},{"s":11,"p":8800,"a":0,"b":0,"c":0},{"s":11,"p":8869,"a":2,"b":1.2,"c":0.6},
{"s":12,"p":-18,"a":25,"b":22,"c":15},{"s":12,"p":30,"a":28.3,"b":26.8,"c":25.3},{"s":12,"p":140,"a":33.3,"b":31.8,"c":30.3},{"s":12,"p":350,"a":34.3,"b":32.8,"c":31.3},{"s":12,"p":540,"a":35,"b":33.5,"c":32},{"s":12,"p":700,"a":33.3,"b":31.8,"c":30.3},{"s":12,"p":850,"a":33.3,"b":31.8,"c":30.3},{"s":12,"p":1040,"a":28.3,"b":26.8,"c":25.3},{"s":12,"p":1230,"a":29,"b":27.5,"c":26},{"s":12,"p":1380,"a":30,"b":28.5,"c":27},{"s":12,"p":1530,"a":38.3,"b":36.8,"c":35.3},{"s":12,"p":1630,"a":37.7,"b":36.2,"c":34.7},{"s":12,"p":1720,"a":26.7,"b":24,"c":18},{"s":12,"p":1860,"a":2.3,"b":1.4,"c":0.7},{"s":12,"p":1900,"a":0,"b":0,"c":0},{"s":12,"p":3920,"a":0,"b":0,"c":0},{"s":12,"p":3970,"a":2.3,"b":1.4,"c":0.7},{"s":12,"p":4050,"a":11.7,"b":10.2,"c":8.7},{"s":12,"p":4160,"a":31,"b":29.5,"c":28},{"s":12,"p":4280,"a":30,"b":28.5,"c":27},{"s":12,"p":4370,"a":20,"b":18.5,"c":17},{"s":12,"p":4510,"a":2.3,"b":1.4,"c":0.7},{"s":12,"p":4560,"a":0,"b":0,"c":0},{"s":12,"p":8770,"a":0,"b":0,"c":0},{"s":12,"p":8869,"a":4,"b":2.4,"c":1.2},
{"s":13,"p":-18,"a":14.7,"b":9,"c":3},{"s":13,"p":100,"a":33,"b":31.5,"c":30},{"s":13,"p":240,"a":35.3,"b":33.8,"c":32.3},{"s":13,"p":620,"a":34,"b":32.5,"c":31},{"s":13,"p":850,"a":34.7,"b":33.2,"c":31.7},{"s":13,"p":1040,"a":38,"b":36.5,"c":35},{"s":13,"p":1190,"a":34,"b":32.5,"c":31},{"s":13,"p":1380,"a":35.3,"b":33.8,"c":32.3},{"s":13,"p":1530,"a":38,"b":36.5,"c":35},{"s":13,"p":1610,"a":37.3,"b":35.8,"c":34.3},{"s":13,"p":1720,"a":31.3,"b":29.8,"c":26},{"s":13,"p":1800,"a":14.7,"b":12,"c":8},{"s":13,"p":1880,"a":3,"b":1.8,"c":0.9},{"s":13,"p":1920,"a":0,"b":0,"c":0},{"s":13,"p":3930,"a":0,"b":0,"c":0},{"s":13,"p":3970,"a":1.3,"b":0.8,"c":0.4},{"s":13,"p":4050,"a":13,"b":11.5,"c":10},{"s":13,"p":4140,"a":30.5,"b":29,"c":27.5},{"s":13,"p":4240,"a":31,"b":29.5,"c":28},{"s":13,"p":4350,"a":14.7,"b":13.2,"c":11.7},{"s":13,"p":4490,"a":3,"b":1.8,"c":0.9},{"s":13,"p":4530,"a":0,"b":0,"c":0},{"s":13,"p":8770,"a":0,"b":0,"c":0},{"s":13,"p":8869,"a":4.5,"b":2.7,"c":1.4},
{"s":14,"p":-18,"a":12.7,"b":11.2,"c":9.7},{"s":14,"p":120,"a":12.7,"b":11.2,"c":9.7},{"s":14,"p":350,"a":4.3,"b":2.6,"c":1.3},{"s":14,"p":490,"a":1,"b":0.6,"c":0.3},{"s":14,"p":660,"a":0.3,"b":0.2,"c":0},{"s":14,"p":730,"a":12.7,"b":11.2,"c":9.7},{"s":14,"p":850,"a":35,"b":33.5,"c":32},{"s":14,"p":920,"a":35,"b":33.5,"c":32},{"s":14,"p":1000,"a":31,"b":29.5,"c":28},{"s":14,"p":1130,"a":21.7,"b":20.2,"c":18.7},{"s":14,"p":1230,"a":24.3,"b":22.8,"c":21.3},{"s":14,"p":1320,"a":32.7,"b":31.2,"c":29.7},{"s":14,"p":1420,"a":38.3,"b":36.8,"c":35.3},{"s":14,"p":1630,"a":38.3,"b":36.8,"c":35.3},{"s":14,"p":1720,"a":11,"b":9.5,"c":8},{"s":14,"p":1880,"a":4.3,"b":2.6,"c":1.3},{"s":14,"p":2070,"a":2.7,"b":1.6,"c":0.8},{"s":14,"p":2110,"a":0,"b":0,"c":0},{"s":14,"p":3940,"a":0,"b":0,"c":0},{"s":14,"p":3970,"a":1,"b":0.6,"c":0.3},{"s":14,"p":4030,"a":12.7,"b":11.2,"c":9.7},{"s":14,"p":4160,"a":12.7,"b":11.2,"c":9.7},{"s":14,"p":4240,"a":25,"b":14,"c":11},{"s":14,"p":4320,"a":12.7,"b":11.2,"c":9.7},{"s":14,"p":4450,"a":12.7,"b":11.2,"c":9.7},{"s":14,"p":4550,"a":2.7,"b":1.6,"c":0.8},{"s":14,"p":4620,"a":0,"b":0,"c":0},{"s":14,"p":5740,"a":0,"b":0,"c":0},{"s":14,"p":5850,"a":30.3,"b":12,"c":0},{"s":14,"p":6030,"a":0,"b":0,"c":0},{"s":14,"p":8740,"a":0,"b":0,"c":0},{"s":14,"p":8869,"a":8,"b":6.5,"c":5},
{"s":15,"p":-18,"a":19,"b":17.5,"c":16},{"s":15,"p":90,"a":26.7,"b":25.2,"c":23.7},{"s":15,"p":160,"a":30.7,"b":29.2,"c":27.7},{"s":15,"p":350,"a":26.7,"b":25.2,"c":23.7},{"s":15,"p":470,"a":32.3,"b":30.8,"c":29.3},{"s":15,"p":540,"a":38,"b":36.5,"c":35},{"s":15,"p":750,"a":33.3,"b":31.8,"c":30.3},{"s":15,"p":920,"a":35.7,"b":34.2,"c":32.7},{"s":15,"p":1000,"a":34,"b":32.5,"c":31},{"s":15,"p":1150,"a":25.7,"b":24.2,"c":22.7},{"s":15,"p":1310,"a":26.7,"b":25.2,"c":23.7},{"s":15,"p":1460,"a":24.7,"b":23.2,"c":21.7},{"s":15,"p":1610,"a":22.3,"b":20.8,"c":19.3},{"s":15,"p":1720,"a":14,"b":12.5,"c":11},{"s":15,"p":1910,"a":0.7,"b":0.4,"c":0.2},{"s":15,"p":1950,"a":0,"b":0,"c":0},{"s":15,"p":3900,"a":0,"b":0,"c":0},{"s":15,"p":3940,"a":1.3,"b":0.8,"c":0.4},{"s":15,"p":4090,"a":15.7,"b":14.2,"c":12.7},{"s":15,"p":4220,"a":23.3,"b":21.8,"c":20.3},{"s":15,"p":4340,"a":23.3,"b":21.8,"c":20.3},{"s":15,"p":4430,"a":11,"b":9.5,"c":8},{"s":15,"p":4600,"a":0.7,"b":0.4,"c":0.2},{"s":15,"p":4650,"a":0,"b":0,"c":0},{"s":15,"p":8690,"a":0,"b":0,"c":0},{"s":15,"p":8869,"a":8,"b":6.5,"c":5},
{"s":16,"p":-18,"a":15.3,"b":13.8,"c":12.3},{"s":16,"p":140,"a":26.3,"b":24.8,"c":23.3},{"s":16,"p":310,"a":27.7,"b":26.2,"c":24.7},{"s":16,"p":470,"a":32,"b":30.5,"c":29},{"s":16,"p":640,"a":38.7,"b":37.2,"c":35.7},{"s":16,"p":750,"a":34.3,"b":32.8,"c":31.3},{"s":16,"p":850,"a":37.7,"b":36.2,"c":34.7},{"s":16,"p":940,"a":37,"b":35.5,"c":34},{"s":16,"p":1110,"a":27,"b":25.5,"c":24},{"s":16,"p":1270,"a":17.7,"b":16.2,"c":14.7},{"s":16,"p":1420,"a":16.3,"b":14.8,"c":13.3},{"s":16,"p":1610,"a":12,"b":10.5,"c":9},{"s":16,"p":1720,"a":7.7,"b":6.2,"c":4.7},{"s":16,"p":1880,"a":1,"b":0.6,"c":0.3},{"s":16,"p":1920,"a":0,"b":0,"c":0},{"s":16,"p":3860,"a":0,"b":0,"c":0},{"s":16,"p":3900,"a":2,"b":1.2,"c":0.6},{"s":16,"p":4090,"a":25.3,"b":23.8,"c":22.3},{"s":16,"p":4240,"a":32,"b":30.5,"c":29},{"s":16,"p":4390,"a":20.3,"b":18.8,"c":17.3},{"s":16,"p":4510,"a":13.7,"b":12.2,"c":10.7},{"s":16,"p":4580,"a":15,"b":13.5,"c":12},{"s":16,"p":4770,"a":14.3,"b":12.8,"c":11.3},{"s":16,"p":5000,"a":14.3,"b":12.8,"c":11.3},{"s":16,"p":5190,"a":9.7,"b":8.2,"c":6.7},{"s":16,"p":5350,"a":7,"b":5.5,"c":4},{"s":16,"p":5580,"a":11,"b":9.5,"c":8},{"s":16,"p":5770,"a":12,"b":10.5,"c":9},{"s":16,"p":6190,"a":11,"b":9.5,"c":8},{"s":16,"p":6340,"a":17,"b":15.5,"c":14},{"s":16,"p":6490,"a":16.3,"b":14.8,"c":13.3},{"s":16,"p":6600,"a":12,"b":10.5,"c":9},{"s":16,"p":6760,"a":2,"b":1.2,"c":0.6},{"s":16,"p":6820,"a":0,"b":0,"c":0},{"s":16,"p":8730,"a":0,"b":0,"c":0},{"s":16,"p":8869,"a":10,"b":8.5,"c":7}
]
},
"spacing": -2,
"bounds": "full",
"hconcat": [
{"vconcat": [
 {"width": 49, "height": 62, "view": {"stroke": null}, "data": {"values": [{"t": ""}]}, "mark": {"type": "text"}, "encoding": {"text": {"field": "t"}}},
 {"width": 49, "height": 688, "view": {"stroke": "#111111", "strokeWidth": 1}, "data": {"name": "tab"},
  "mark": {"type": "text", "fontSize": 18, "dy": 1},
  "encoding": {"y": {"field": "row", "type": "ordinal", "scale": {"type": "band", "paddingInner": 0, "paddingOuter": 0}, "axis": {"grid": true, "tickBand": "extent", "labels": false, "ticks": false, "domain": true, "domainColor": "#111111", "domainWidth": 2, "title": null, "gridColor": "#111111", "gridWidth": 2, "gridOpacity": 1}}, "text": {"field": "row", "type": "nominal"}}}
], "spacing": 0, "bounds": "flush"},
{"vconcat": [
 {"width": 73, "height": 62, "view": {"stroke": null}, "data": {"values": [{"t": "Strain"}]}, "mark": {"type": "text", "fontSize": 16, "dy": 15}, "encoding": {"text": {"field": "t"}}},
 {"width": 73, "height": 688, "view": {"stroke": "#111111", "strokeWidth": 1}, "data": {"name": "tab"},
  "encoding": {"y": {"field": "row", "type": "ordinal", "scale": {"type": "band", "paddingInner": 0, "paddingOuter": 0}, "axis": {"grid": true, "tickBand": "extent", "labels": false, "ticks": false, "domain": false, "title": null, "gridColor": "#111111", "gridWidth": 2, "gridOpacity": 1}}},
  "layer": [
   {"mark": {"type": "text", "fontSize": 15, "dy": -8}, "encoding": {"text": {"field": "name"}}},
   {"mark": {"type": "text", "fontSize": 14, "dy": 10}, "encoding": {"text": {"field": "pct"}, "color": {"condition": {"test": "datum.pct == '100%'", "value": "#ff0000"}, "value": "#111111"}}}
  ]}
], "spacing": 0, "bounds": "flush"},
{"vconcat": [
 {"width": 777, "height": 62, "view": {"stroke": null}, "data": {"values": [{"t": ""}]}, "mark": {"type": "text"}, "encoding": {"text": {"field": "t"}}},
 {"width": 777, "height": 43, "view": {"stroke": "#111111", "strokeWidth": 1, "fill": "#efeffb"}, "data": {"name": "cov"}, "transform": [{"filter": "datum.s == 1"}],
  "encoding": {"x": {"field": "p", "type": "quantitative", "scale": {"domain": [-18, 8869], "nice": false, "zero": false}, "axis": {"orient": "top", "values": [1000,2000,3000,4000,5000,6000,7000,8000], "format": ",d", "grid": false, "domain": false, "ticks": true, "tickColor": "#111111", "tickWidth": 2, "tickSize": 12, "labelFont": "Liberation Sans", "labelFontWeight": "bold", "labelFontSize": 14.5, "labelColor": "#111111", "labelPadding": 3, "labelFlush": false, "labelOverlap": false, "title": null}}},
  "layer": [
   {"mark": {"type": "area", "color": "#2c3e8e", "stroke": "#2c3e8e", "strokeWidth": 1.2}, "encoding": {"y": {"field": "a", "type": "quantitative", "scale": {"domain": [0, 43], "nice": false}, "axis": {"values": [0, 43], "grid": true, "gridColor": "#111111", "gridWidth": 2, "gridOpacity": 1, "labels": false, "ticks": false, "domain": false, "title": null, "zindex": 1}}}},
   {"mark": {"type": "area", "color": "#3a5ccb"}, "encoding": {"y": {"field": "b", "type": "quantitative", "scale": {"domain": [0, 43], "nice": false}, "axis": null}}},
   {"mark": {"type": "area", "color": "#5886f5"}, "encoding": {"y": {"field": "c", "type": "quantitative", "scale": {"domain": [0, 43], "nice": false}, "axis": null}}}
  ]},
 {"width": 777, "height": 43, "view": {"stroke": "#111111", "strokeWidth": 1, "fill": "#ffffff"}, "data": {"name": "cov"}, "transform": [{"filter": "datum.s == 2"}],
  "encoding": {"x": {"field": "p", "type": "quantitative", "scale": {"domain": [-18, 8869], "nice": false, "zero": false}, "axis": null}},
  "layer": [
   {"mark": {"type": "area", "color": "#2c3e8e", "stroke": "#2c3e8e", "strokeWidth": 1.2}, "encoding": {"y": {"field": "a", "type": "quantitative", "scale": {"domain": [0, 43], "nice": false}, "axis": {"values": [0, 43], "grid": true, "gridColor": "#111111", "gridWidth": 2, "gridOpacity": 1, "labels": false, "ticks": false, "domain": false, "title": null, "zindex": 1}}}},
   {"mark": {"type": "area", "color": "#3a5ccb"}, "encoding": {"y": {"field": "b", "type": "quantitative", "scale": {"domain": [0, 43], "nice": false}, "axis": null}}},
   {"mark": {"type": "area", "color": "#5886f5"}, "encoding": {"y": {"field": "c", "type": "quantitative", "scale": {"domain": [0, 43], "nice": false}, "axis": null}}}
  ]},
 {"width": 777, "height": 43, "view": {"stroke": "#111111", "strokeWidth": 1, "fill": "#efeffb"}, "data": {"name": "cov"}, "transform": [{"filter": "datum.s == 3"}],
  "encoding": {"x": {"field": "p", "type": "quantitative", "scale": {"domain": [-18, 8869], "nice": false, "zero": false}, "axis": null}},
  "layer": [
   {"mark": {"type": "area", "color": "#2c3e8e", "stroke": "#2c3e8e", "strokeWidth": 1.2}, "encoding": {"y": {"field": "a", "type": "quantitative", "scale": {"domain": [0, 43], "nice": false}, "axis": {"values": [0, 43], "grid": true, "gridColor": "#111111", "gridWidth": 2, "gridOpacity": 1, "labels": false, "ticks": false, "domain": false, "title": null, "zindex": 1}}}},
   {"mark": {"type": "area", "color": "#3a5ccb"}, "encoding": {"y": {"field": "b", "type": "quantitative", "scale": {"domain": [0, 43], "nice": false}, "axis": null}}},
   {"mark": {"type": "area", "color": "#5886f5"}, "encoding": {"y": {"field": "c", "type": "quantitative", "scale": {"domain": [0, 43], "nice": false}, "axis": null}}}
  ]},
 {"width": 777, "height": 43, "view": {"stroke": "#111111", "strokeWidth": 1, "fill": "#ffffff"}, "data": {"name": "cov"}, "transform": [{"filter": "datum.s == 4"}],
  "encoding": {"x": {"field": "p", "type": "quantitative", "scale": {"domain": [-18, 8869], "nice": false, "zero": false}, "axis": null}},
  "layer": [
   {"mark": {"type": "area", "color": "#2c3e8e", "stroke": "#2c3e8e", "strokeWidth": 1.2}, "encoding": {"y": {"field": "a", "type": "quantitative", "scale": {"domain": [0, 43], "nice": false}, "axis": {"values": [0, 43], "grid": true, "gridColor": "#111111", "gridWidth": 2, "gridOpacity": 1, "labels": false, "ticks": false, "domain": false, "title": null, "zindex": 1}}}},
   {"mark": {"type": "area", "color": "#3a5ccb"}, "encoding": {"y": {"field": "b", "type": "quantitative", "scale": {"domain": [0, 43], "nice": false}, "axis": null}}},
   {"mark": {"type": "area", "color": "#5886f5"}, "encoding": {"y": {"field": "c", "type": "quantitative", "scale": {"domain": [0, 43], "nice": false}, "axis": null}}}
  ]},
 {"width": 777, "height": 43, "view": {"stroke": "#111111", "strokeWidth": 1, "fill": "#efeffb"}, "data": {"name": "cov"}, "transform": [{"filter": "datum.s == 5"}],
  "encoding": {"x": {"field": "p", "type": "quantitative", "scale": {"domain": [-18, 8869], "nice": false, "zero": false}, "axis": null}},
  "layer": [
   {"mark": {"type": "area", "color": "#2c3e8e", "stroke": "#2c3e8e", "strokeWidth": 1.2}, "encoding": {"y": {"field": "a", "type": "quantitative", "scale": {"domain": [0, 43], "nice": false}, "axis": {"values": [0, 43], "grid": true, "gridColor": "#111111", "gridWidth": 2, "gridOpacity": 1, "labels": false, "ticks": false, "domain": false, "title": null, "zindex": 1}}}},
   {"mark": {"type": "area", "color": "#3a5ccb"}, "encoding": {"y": {"field": "b", "type": "quantitative", "scale": {"domain": [0, 43], "nice": false}, "axis": null}}},
   {"mark": {"type": "area", "color": "#5886f5"}, "encoding": {"y": {"field": "c", "type": "quantitative", "scale": {"domain": [0, 43], "nice": false}, "axis": null}}}
  ]},
 {"width": 777, "height": 43, "view": {"stroke": "#111111", "strokeWidth": 1, "fill": "#ffffff"}, "data": {"name": "cov"}, "transform": [{"filter": "datum.s == 6"}],
  "encoding": {"x": {"field": "p", "type": "quantitative", "scale": {"domain": [-18, 8869], "nice": false, "zero": false}, "axis": null}},
  "layer": [
   {"mark": {"type": "area", "color": "#2c3e8e", "stroke": "#2c3e8e", "strokeWidth": 1.2}, "encoding": {"y": {"field": "a", "type": "quantitative", "scale": {"domain": [0, 43], "nice": false}, "axis": {"values": [0, 43], "grid": true, "gridColor": "#111111", "gridWidth": 2, "gridOpacity": 1, "labels": false, "ticks": false, "domain": false, "title": null, "zindex": 1}}}},
   {"mark": {"type": "area", "color": "#3a5ccb"}, "encoding": {"y": {"field": "b", "type": "quantitative", "scale": {"domain": [0, 43], "nice": false}, "axis": null}}},
   {"mark": {"type": "area", "color": "#5886f5"}, "encoding": {"y": {"field": "c", "type": "quantitative", "scale": {"domain": [0, 43], "nice": false}, "axis": null}}}
  ]},
 {"width": 777, "height": 43, "view": {"stroke": "#111111", "strokeWidth": 1, "fill": "#efeffb"}, "data": {"name": "cov"}, "transform": [{"filter": "datum.s == 7"}],
  "encoding": {"x": {"field": "p", "type": "quantitative", "scale": {"domain": [-18, 8869], "nice": false, "zero": false}, "axis": null}},
  "layer": [
   {"mark": {"type": "area", "color": "#2c3e8e", "stroke": "#2c3e8e", "strokeWidth": 1.2}, "encoding": {"y": {"field": "a", "type": "quantitative", "scale": {"domain": [0, 43], "nice": false}, "axis": {"values": [0, 43], "grid": true, "gridColor": "#111111", "gridWidth": 2, "gridOpacity": 1, "labels": false, "ticks": false, "domain": false, "title": null, "zindex": 1}}}},
   {"mark": {"type": "area", "color": "#3a5ccb"}, "encoding": {"y": {"field": "b", "type": "quantitative", "scale": {"domain": [0, 43], "nice": false}, "axis": null}}},
   {"mark": {"type": "area", "color": "#5886f5"}, "encoding": {"y": {"field": "c", "type": "quantitative", "scale": {"domain": [0, 43], "nice": false}, "axis": null}}}
  ]},
 {"width": 777, "height": 43, "view": {"stroke": "#111111", "strokeWidth": 1, "fill": "#ffffff"}, "data": {"name": "cov"}, "transform": [{"filter": "datum.s == 8"}],
  "encoding": {"x": {"field": "p", "type": "quantitative", "scale": {"domain": [-18, 8869], "nice": false, "zero": false}, "axis": null}},
  "layer": [
   {"mark": {"type": "area", "color": "#2c3e8e", "stroke": "#2c3e8e", "strokeWidth": 1.2}, "encoding": {"y": {"field": "a", "type": "quantitative", "scale": {"domain": [0, 43], "nice": false}, "axis": {"values": [0, 43], "grid": true, "gridColor": "#111111", "gridWidth": 2, "gridOpacity": 1, "labels": false, "ticks": false, "domain": false, "title": null, "zindex": 1}}}},
   {"mark": {"type": "area", "color": "#3a5ccb"}, "encoding": {"y": {"field": "b", "type": "quantitative", "scale": {"domain": [0, 43], "nice": false}, "axis": null}}},
   {"mark": {"type": "area", "color": "#5886f5"}, "encoding": {"y": {"field": "c", "type": "quantitative", "scale": {"domain": [0, 43], "nice": false}, "axis": null}}}
  ]},
 {"width": 777, "height": 43, "view": {"stroke": "#111111", "strokeWidth": 1, "fill": "#efeffb"}, "data": {"name": "cov"}, "transform": [{"filter": "datum.s == 9"}],
  "encoding": {"x": {"field": "p", "type": "quantitative", "scale": {"domain": [-18, 8869], "nice": false, "zero": false}, "axis": null}},
  "layer": [
   {"mark": {"type": "area", "color": "#2c3e8e", "stroke": "#2c3e8e", "strokeWidth": 1.2}, "encoding": {"y": {"field": "a", "type": "quantitative", "scale": {"domain": [0, 43], "nice": false}, "axis": {"values": [0, 43], "grid": true, "gridColor": "#111111", "gridWidth": 2, "gridOpacity": 1, "labels": false, "ticks": false, "domain": false, "title": null, "zindex": 1}}}},
   {"mark": {"type": "area", "color": "#3a5ccb"}, "encoding": {"y": {"field": "b", "type": "quantitative", "scale": {"domain": [0, 43], "nice": false}, "axis": null}}},
   {"mark": {"type": "area", "color": "#5886f5"}, "encoding": {"y": {"field": "c", "type": "quantitative", "scale": {"domain": [0, 43], "nice": false}, "axis": null}}}
  ]},
 {"width": 777, "height": 43, "view": {"stroke": "#111111", "strokeWidth": 1, "fill": "#ffffff"}, "data": {"name": "cov"}, "transform": [{"filter": "datum.s == 10"}],
  "encoding": {"x": {"field": "p", "type": "quantitative", "scale": {"domain": [-18, 8869], "nice": false, "zero": false}, "axis": null}},
  "layer": [
   {"mark": {"type": "area", "color": "#2c3e8e", "stroke": "#2c3e8e", "strokeWidth": 1.2}, "encoding": {"y": {"field": "a", "type": "quantitative", "scale": {"domain": [0, 43], "nice": false}, "axis": {"values": [0, 43], "grid": true, "gridColor": "#111111", "gridWidth": 2, "gridOpacity": 1, "labels": false, "ticks": false, "domain": false, "title": null, "zindex": 1}}}},
   {"mark": {"type": "area", "color": "#3a5ccb"}, "encoding": {"y": {"field": "b", "type": "quantitative", "scale": {"domain": [0, 43], "nice": false}, "axis": null}}},
   {"mark": {"type": "area", "color": "#5886f5"}, "encoding": {"y": {"field": "c", "type": "quantitative", "scale": {"domain": [0, 43], "nice": false}, "axis": null}}}
  ]},
 {"width": 777, "height": 43, "view": {"stroke": "#111111", "strokeWidth": 1, "fill": "#efeffb"}, "data": {"name": "cov"}, "transform": [{"filter": "datum.s == 11"}],
  "encoding": {"x": {"field": "p", "type": "quantitative", "scale": {"domain": [-18, 8869], "nice": false, "zero": false}, "axis": null}},
  "layer": [
   {"mark": {"type": "area", "color": "#2c3e8e", "stroke": "#2c3e8e", "strokeWidth": 1.2}, "encoding": {"y": {"field": "a", "type": "quantitative", "scale": {"domain": [0, 43], "nice": false}, "axis": {"values": [0, 43], "grid": true, "gridColor": "#111111", "gridWidth": 2, "gridOpacity": 1, "labels": false, "ticks": false, "domain": false, "title": null, "zindex": 1}}}},
   {"mark": {"type": "area", "color": "#3a5ccb"}, "encoding": {"y": {"field": "b", "type": "quantitative", "scale": {"domain": [0, 43], "nice": false}, "axis": null}}},
   {"mark": {"type": "area", "color": "#5886f5"}, "encoding": {"y": {"field": "c", "type": "quantitative", "scale": {"domain": [0, 43], "nice": false}, "axis": null}}}
  ]},
 {"width": 777, "height": 43, "view": {"stroke": "#111111", "strokeWidth": 1, "fill": "#ffffff"}, "data": {"name": "cov"}, "transform": [{"filter": "datum.s == 12"}],
  "encoding": {"x": {"field": "p", "type": "quantitative", "scale": {"domain": [-18, 8869], "nice": false, "zero": false}, "axis": null}},
  "layer": [
   {"mark": {"type": "area", "color": "#2c3e8e", "stroke": "#2c3e8e", "strokeWidth": 1.2}, "encoding": {"y": {"field": "a", "type": "quantitative", "scale": {"domain": [0, 43], "nice": false}, "axis": {"values": [0, 43], "grid": true, "gridColor": "#111111", "gridWidth": 2, "gridOpacity": 1, "labels": false, "ticks": false, "domain": false, "title": null, "zindex": 1}}}},
   {"mark": {"type": "area", "color": "#3a5ccb"}, "encoding": {"y": {"field": "b", "type": "quantitative", "scale": {"domain": [0, 43], "nice": false}, "axis": null}}},
   {"mark": {"type": "area", "color": "#5886f5"}, "encoding": {"y": {"field": "c", "type": "quantitative", "scale": {"domain": [0, 43], "nice": false}, "axis": null}}}
  ]},
 {"width": 777, "height": 43, "view": {"stroke": "#111111", "strokeWidth": 1, "fill": "#efeffb"}, "data": {"name": "cov"}, "transform": [{"filter": "datum.s == 13"}],
  "encoding": {"x": {"field": "p", "type": "quantitative", "scale": {"domain": [-18, 8869], "nice": false, "zero": false}, "axis": null}},
  "layer": [
   {"mark": {"type": "area", "color": "#2c3e8e", "stroke": "#2c3e8e", "strokeWidth": 1.2}, "encoding": {"y": {"field": "a", "type": "quantitative", "scale": {"domain": [0, 43], "nice": false}, "axis": {"values": [0, 43], "grid": true, "gridColor": "#111111", "gridWidth": 2, "gridOpacity": 1, "labels": false, "ticks": false, "domain": false, "title": null, "zindex": 1}}}},
   {"mark": {"type": "area", "color": "#3a5ccb"}, "encoding": {"y": {"field": "b", "type": "quantitative", "scale": {"domain": [0, 43], "nice": false}, "axis": null}}},
   {"mark": {"type": "area", "color": "#5886f5"}, "encoding": {"y": {"field": "c", "type": "quantitative", "scale": {"domain": [0, 43], "nice": false}, "axis": null}}}
  ]},
 {"width": 777, "height": 43, "view": {"stroke": "#111111", "strokeWidth": 1, "fill": "#ffffff"}, "data": {"name": "cov"}, "transform": [{"filter": "datum.s == 14"}],
  "encoding": {"x": {"field": "p", "type": "quantitative", "scale": {"domain": [-18, 8869], "nice": false, "zero": false}, "axis": null}},
  "layer": [
   {"mark": {"type": "area", "color": "#2c3e8e", "stroke": "#2c3e8e", "strokeWidth": 1.2}, "encoding": {"y": {"field": "a", "type": "quantitative", "scale": {"domain": [0, 43], "nice": false}, "axis": {"values": [0, 43], "grid": true, "gridColor": "#111111", "gridWidth": 2, "gridOpacity": 1, "labels": false, "ticks": false, "domain": false, "title": null, "zindex": 1}}}},
   {"mark": {"type": "area", "color": "#3a5ccb"}, "encoding": {"y": {"field": "b", "type": "quantitative", "scale": {"domain": [0, 43], "nice": false}, "axis": null}}},
   {"mark": {"type": "area", "color": "#5886f5"}, "encoding": {"y": {"field": "c", "type": "quantitative", "scale": {"domain": [0, 43], "nice": false}, "axis": null}}}
  ]},
 {"width": 777, "height": 43, "view": {"stroke": "#111111", "strokeWidth": 1, "fill": "#efeffb"}, "data": {"name": "cov"}, "transform": [{"filter": "datum.s == 15"}],
  "encoding": {"x": {"field": "p", "type": "quantitative", "scale": {"domain": [-18, 8869], "nice": false, "zero": false}, "axis": null}},
  "layer": [
   {"mark": {"type": "area", "color": "#2c3e8e", "stroke": "#2c3e8e", "strokeWidth": 1.2}, "encoding": {"y": {"field": "a", "type": "quantitative", "scale": {"domain": [0, 43], "nice": false}, "axis": {"values": [0, 43], "grid": true, "gridColor": "#111111", "gridWidth": 2, "gridOpacity": 1, "labels": false, "ticks": false, "domain": false, "title": null, "zindex": 1}}}},
   {"mark": {"type": "area", "color": "#3a5ccb"}, "encoding": {"y": {"field": "b", "type": "quantitative", "scale": {"domain": [0, 43], "nice": false}, "axis": null}}},
   {"mark": {"type": "area", "color": "#5886f5"}, "encoding": {"y": {"field": "c", "type": "quantitative", "scale": {"domain": [0, 43], "nice": false}, "axis": null}}}
  ]},
 {"width": 777, "height": 43, "view": {"stroke": "#111111", "strokeWidth": 1, "fill": "#ffffff"}, "data": {"name": "cov"}, "transform": [{"filter": "datum.s == 16"}],
  "encoding": {"x": {"field": "p", "type": "quantitative", "scale": {"domain": [-18, 8869], "nice": false, "zero": false}, "axis": null}},
  "layer": [
   {"mark": {"type": "area", "color": "#2c3e8e", "stroke": "#2c3e8e", "strokeWidth": 1.2}, "encoding": {"y": {"field": "a", "type": "quantitative", "scale": {"domain": [0, 43], "nice": false}, "axis": {"values": [0, 43], "grid": true, "gridColor": "#111111", "gridWidth": 2, "gridOpacity": 1, "labels": false, "ticks": false, "domain": false, "title": null, "zindex": 1}}}},
   {"mark": {"type": "area", "color": "#3a5ccb"}, "encoding": {"y": {"field": "b", "type": "quantitative", "scale": {"domain": [0, 43], "nice": false}, "axis": null}}},
   {"mark": {"type": "area", "color": "#5886f5"}, "encoding": {"y": {"field": "c", "type": "quantitative", "scale": {"domain": [0, 43], "nice": false}, "axis": null}}}
  ]}
], "spacing": 0, "bounds": "flush"},
{"vconcat": [
 {"width": 195, "height": 29, "view": {"stroke": "#111111", "strokeWidth": 1}, "data": {"values": [{"t": "Coverage (X)"}]}, "mark": {"type": "text", "fontSize": 16, "dy": -1}, "encoding": {"text": {"field": "t"}}},
 {"hconcat": [
  {"vconcat": [
   {"width": 97, "height": 32, "view": {"stroke": "#111111", "strokeWidth": 1}, "data": {"values": [{"t": "CLasMV1"}]}, "mark": {"type": "text", "fontSize": 16}, "encoding": {"text": {"field": "t"}}},
   {"width": 97, "height": 688, "view": {"stroke": "#111111", "strokeWidth": 1}, "data": {"name": "tab"},
    "mark": {"type": "text", "fontSize": 18},
    "encoding": {"y": {"field": "row", "type": "ordinal", "scale": {"type": "band", "paddingInner": 0, "paddingOuter": 0}, "axis": {"grid": true, "tickBand": "extent", "labels": false, "ticks": false, "domain": false, "title": null, "gridColor": "#111111", "gridWidth": 2, "gridOpacity": 1}}, "text": {"field": "mv1"}}}
  ], "spacing": 0, "bounds": "flush"},
  {"vconcat": [
   {"width": 97, "height": 32, "view": {"stroke": "#111111", "strokeWidth": 1}, "data": {"values": [{"t": "CLas"}]}, "mark": {"type": "text", "fontSize": 16}, "encoding": {"text": {"field": "t"}}},
   {"width": 97, "height": 688, "view": {"stroke": "#111111", "strokeWidth": 1}, "data": {"name": "tab"},
    "mark": {"type": "text", "fontSize": 18},
    "encoding": {"y": {"field": "row", "type": "ordinal", "scale": {"type": "band", "paddingInner": 0, "paddingOuter": 0}, "axis": {"grid": true, "tickBand": "extent", "labels": false, "ticks": false, "domain": false, "title": null, "gridColor": "#111111", "gridWidth": 2, "gridOpacity": 1}}, "text": {"field": "clas"}}}
  ], "spacing": 0, "bounds": "flush"}
 ], "spacing": -2, "bounds": "full"}
], "spacing": -2, "bounds": "full"},
{"vconcat": [
 {"width": 167, "height": 62, "view": {"stroke": "#111111", "strokeWidth": 1}, "data": {"values": [{"t": "Ratio\n(CLasMV1 / CLas)"}]}, "mark": {"type": "text", "fontSize": 16, "lineBreak": "\n", "lineHeight": 24, "dy": -11}, "encoding": {"text": {"field": "t"}}},
 {"width": 167, "height": 688, "view": {"stroke": "#111111", "strokeWidth": 1}, "data": {"name": "tab"},
  "mark": {"type": "text", "fontSize": 18},
  "encoding": {"y": {"field": "row", "type": "ordinal", "scale": {"type": "band", "paddingInner": 0, "paddingOuter": 0}, "axis": {"orient": "right", "grid": true, "tickBand": "extent", "labels": false, "ticks": false, "domain": true, "domainColor": "#111111", "domainWidth": 2, "title": null, "gridColor": "#111111", "gridWidth": 2, "gridOpacity": 1}}, "text": {"field": "ratio"}}}
], "spacing": 0, "bounds": "flush"}
]
}
